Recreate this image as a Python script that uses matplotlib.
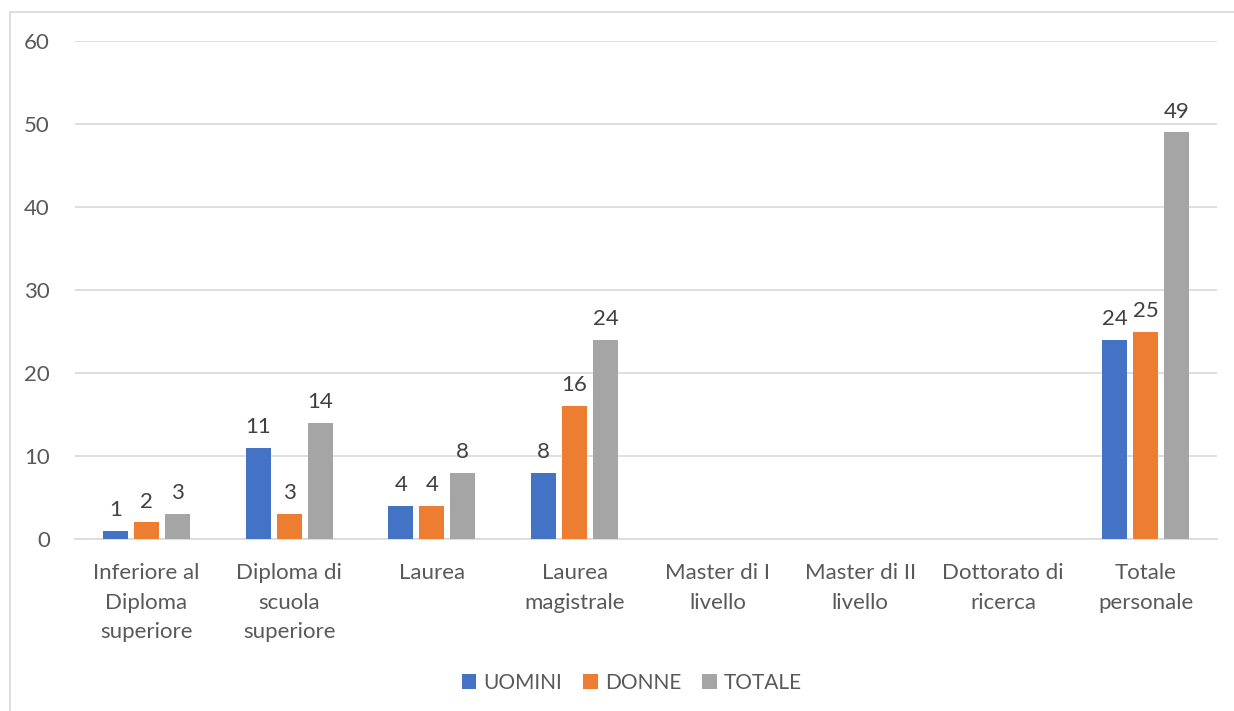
import matplotlib
matplotlib.use("Agg")
import matplotlib.pyplot as plt
from matplotlib.patches import Rectangle
import numpy as np

categories = ["Inferiore al\nDiploma\nsuperiore", "Diploma di\nscuola\nsuperiore", "Laurea",
              "Laurea\nmagistrale", "Master di I\nlivello", "Master di II\nlivello",
              "Dottorato di\nricerca", "Totale\npersonale"]
uomini = [1, 11, 4, 8, 0, 0, 0, 24]
donne = [2, 3, 4, 16, 0, 0, 0, 25]
totale = [3, 14, 8, 24, 0, 0, 0, 49]
series_names = ["UOMINI", "DONNE", "TOTALE"]
colors = ["#4472C4", "#ED7D31", "#A5A5A5"]

plt.rcParams['font.family'] = ['Lato', 'DejaVu Sans']
FS = 16

fig = plt.figure(figsize=(12.34, 7.11), dpi=100)
ax = fig.add_axes([75 / 1234, 1 - 539 / 711, (1217 - 75) / 1234, (539 - 41) / 711])

# outer chart frame
fig.patches.append(Rectangle((10 / 1234, -0.05), 1.1, 1 - 12 / 711 + 0.05,
                             transform=fig.transFigure, fill=False,
                             edgecolor="#D9D9D9", linewidth=1.2))

x = np.arange(len(categories))
width = 0.175
step = 0.217
for i, (vals, name, col) in enumerate(zip([uomini, donne, totale], series_names, colors)):
    pos = x + (i - 1) * step
    bars = ax.bar(pos, vals, width=width, color=col, label=name, zorder=3)
    for b, v in zip(bars, vals):
        if v:
            ax.text(b.get_x() + b.get_width() / 2, v + 1.3, str(v), ha="center",
                    va="bottom", fontsize=FS, color="#404040")

ax.set_xlim(-0.5, len(categories) - 0.5)
ax.set_ylim(0, 60)
ax.set_yticks(range(0, 61, 10))
ax.yaxis.grid(True, color="#D9D9D9", linewidth=1.2, zorder=0)
ax.set_axisbelow(True)
for s in ["top", "right", "left"]:
    ax.spines[s].set_visible(False)
ax.spines["bottom"].set_color("#D9D9D9")
ax.spines["bottom"].set_linewidth(1.2)
ax.tick_params(axis="both", length=0, labelsize=FS, colors="#595959")
ax.tick_params(axis="y", pad=18)
ax.tick_params(axis="x", pad=17)
ax.set_xticks(x)
ax.set_xticklabels(categories, linespacing=1.62)

fig.legend(loc="center", bbox_to_anchor=(632 / 1234, 1 - 683 / 711), ncol=3, frameon=False,
           fontsize=15, handlelength=0.7, handleheight=0.7, handletextpad=0.35,
           columnspacing=1.0, labelcolor="#595959")

fig.savefig("out.png", dpi=100, facecolor="white")
